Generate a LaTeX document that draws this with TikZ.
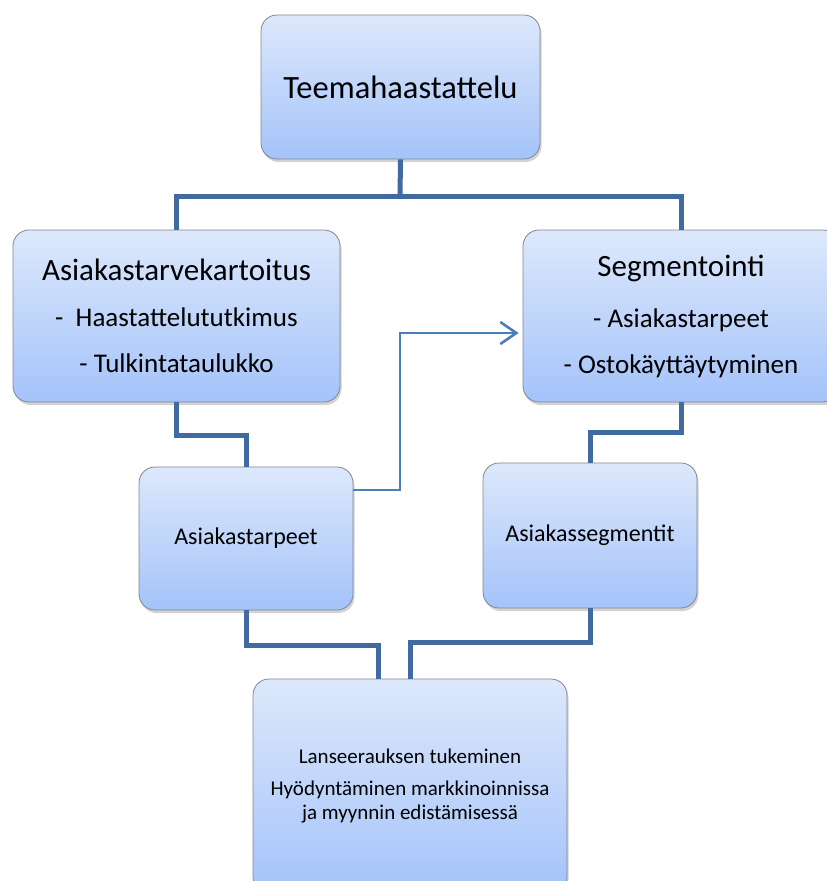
\documentclass[tikz,border=0pt]{standalone}
\usepackage{fontspec}
\setmainfont{Carlito}
\usepackage{tikz}
\usetikzlibrary{arrows.meta}
\usetikzlibrary{positioning}
\usetikzlibrary{shadows}
\definecolor{boxtop}{RGB}{221,232,251}
\definecolor{boxbottom}{RGB}{164,195,250}
\definecolor{boxline}{RGB}{128,134,146}
\definecolor{linkblue}{RGB}{64,106,160}
\definecolor{arrowblue}{RGB}{74,126,187}
\tikzset{
    stepbox/.style={draw=boxline, line width=0.8pt, rounded corners=16pt,
        top color=boxtop, bottom color=boxbottom, align=center, inner sep=0pt,
        drop shadow={shadow xshift=1.5pt, shadow yshift=-3pt, opacity=0.35}},
    link/.style={draw=linkblue, line width=5pt},
    flow/.style={draw=arrowblue, line width=2.6pt,
        -{Straight Barb[length=16pt,width=22pt,line width=2.6pt]}},
}
\newcommand{\titlefont}{\fontsize{32.5}{38}\selectfont}
\newcommand{\headfont}{\fontsize{31}{37}\selectfont}
\newcommand{\itemfont}{\fontsize{27}{46}\selectfont}
\newcommand{\smallfont}{\fontsize{24}{28}\selectfont}
\newcommand{\notefont}{\fontsize{21}{24}\selectfont}
\begin{document}
\begin{tikzpicture}[x=1pt, y=-1pt]
    \useasboundingbox (0,0) rectangle (827,881);

    % boxes
    \node[stepbox, minimum width=279pt, minimum height=144pt] (teema) at (400.5,87)
        {\titlefont Teemahaastattelu};
    \node[stepbox, font=\itemfont, minimum width=327pt, minimum height=172pt] (kartoitus) at (176.5,316)
        {\headfont Asiakastarvekartoitus\\
         -\ \ Haastattelututkimus\\
         - Tulkintataulukko};
    \node[stepbox, font=\itemfont, minimum width=316pt, minimum height=172pt] (segment) at (681,316)
        {\headfont Segmentointi\\[5pt]
         - Asiakastarpeet\\
         - Ostokäyttäytyminen};
    \node[stepbox, font=\smallfont, minimum width=214pt, minimum height=143pt] (tarpeet) at (246,538.5)
        {Asiakastarpeet};
    \node[stepbox, font=\smallfont, minimum width=214pt, minimum height=145pt] (segmentit) at (590,535.5)
        {Asiakassegmentit};
    \node[stepbox, font=\notefont, minimum width=314pt, minimum height=214pt] (tulos) at (410,786)
        {Lanseerauksen tukeminen\\[8pt]
         Hyödyntäminen markkinoinnissa\\
         ja myynnin edistämisessä};

    % connectors
    \coordinate (haara) at (400,196);
    \draw[link] (teema.south) -- (haara);
    \draw[link] (kartoitus.north) |- (haara) -| (segment.north);
    \draw[link] (kartoitus.south) -- ++(0,33) -| (tarpeet.north);
    \draw[link] (segment.south) -- ++(0,30) -| (segmentit.north);
    \draw[link] (tarpeet.south) -- ++(0,35) -| ([xshift=-32pt]tulos.north);
    \draw[link] (segmentit.south) -- ++(0,34) -| (tulos.north);

    \draw[flow, shorten >=4pt] ([yshift=48.5pt]tarpeet.east) -| (400,333) -- ([yshift=-17pt]segment.west);
\end{tikzpicture}
\end{document}
